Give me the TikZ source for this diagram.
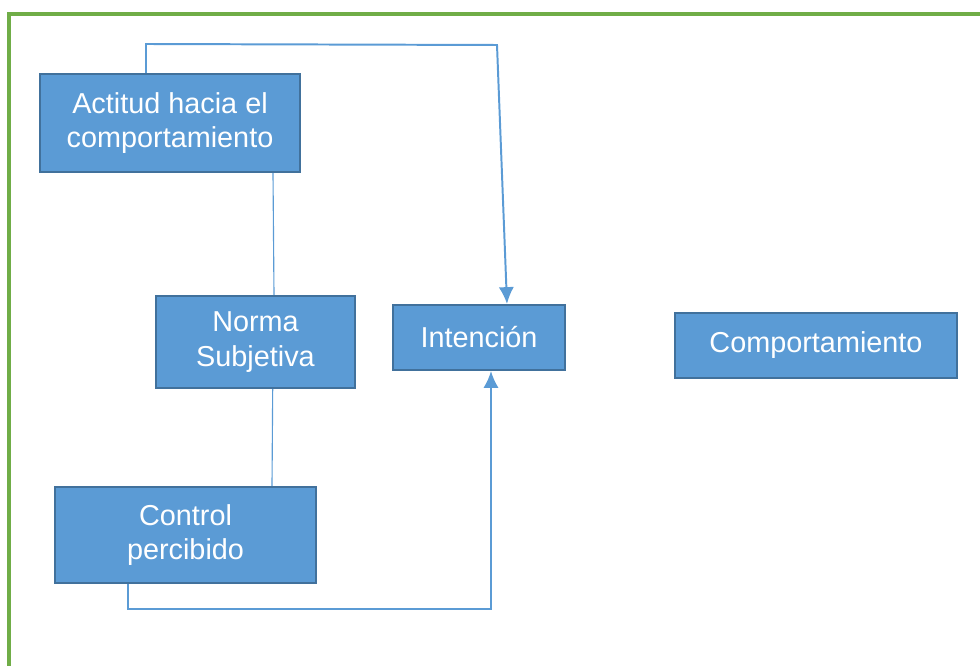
\documentclass[tikz,border=0pt]{standalone}
\usepackage{fontspec}
\setmainfont{Liberation Sans}
\usepackage{tikz}
\usetikzlibrary{arrows.meta}
\definecolor{caja}{RGB}{91, 155, 213}
\definecolor{borde}{RGB}{65, 113, 156}
\definecolor{linea}{RGB}{91, 155, 213}
\definecolor{marco}{RGB}{112, 173, 71}

\begin{document}
\begin{tikzpicture}[scale=1,
    bloque/.style={draw=borde, fill=caja, line width=1.5pt, text=white, align=center,
      font=\fontsize{20.5}{24.8}\selectfont, inner sep=0pt},
    fina/.style={linea, line width=0.8pt},
    flecha/.style={linea, line width=1.4pt, -{Latex[length=0.42cm, width=0.38cm]}}]
  \useasboundingbox (0, 0) rectangle (24.5, 16.65);

  \draw[marco, line width=2.2pt] (24.5, 16.3) -- (0.225, 16.3) -- (0.225, 0);

  \node[bloque, minimum width=6.5cm, minimum height=2.45cm] (actitud) at (4.25, 13.575)
    {Actitud hacia el\\comportamiento};
  \node[bloque, minimum width=4.975cm, minimum height=2.3cm] (norma) at (6.3875, 8.1)
    {Norma\\Subjetiva};
  \node[bloque, minimum width=4.3cm, minimum height=1.625cm] (intencion) at (11.975, 8.2125)
    {Intención};
  \node[bloque, minimum width=7.05cm, minimum height=1.625cm] (comportamiento) at (20.4, 8.0125)
    {Comportamiento};
  \node[bloque, minimum width=6.525cm, minimum height=2.4cm] (control) at (4.6375, 3.275)
    {Control\\percibido};

  \coordinate (lazo-izq) at (3.65, 15.55);
  \coordinate (lazo-der) at (12.425, 15.525);
  \coordinate (base-izq) at (3.2, 1.425);
  \coordinate (base-der) at (12.275, 1.425);

  \draw[fina] ([xshift=2.575cm]actitud.south) -- ([xshift=0.4625cm]norma.north);
  \draw[fina] ([xshift=0.43cm]norma.south) -- ([xshift=2.1625cm]control.north);
  \draw[flecha] ([xshift=-0.6cm]actitud.north) -- (lazo-izq) -- (lazo-der)
    -- ([xshift=0.7cm]intencion.north);
  \draw[flecha] ([xshift=-1.4375cm]control.south) -- (base-izq) -- (base-der)
    -- ([xshift=0.3cm]intencion.south);

\end{tikzpicture}
\end{document}
